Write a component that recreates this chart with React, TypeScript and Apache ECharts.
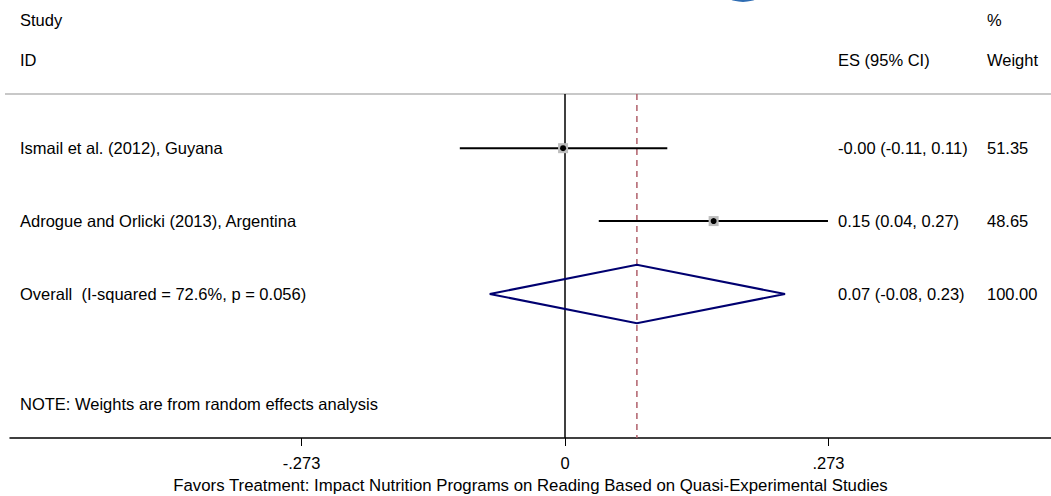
import React, { useEffect, useRef } from "react";
import * as echarts from "echarts";

const studies = ["Ismail et al. (2012), Guyana", "Adrogue and Orlicki (2013), Argentina"];
const esValues = [-0.002, 0.154];
const ciLow = [-0.109, 0.035];
const ciHigh = [0.106, 0.2725];
const esTexts = ["-0.00 (-0.11, 0.11)", "0.15 (0.04, 0.27)"];
const weightTexts = ["51.35", "48.65"];
const overallLabel = "Overall  (I-squared = 72.6%, p = 0.056)";
const overallES = 0.0745;
const overallLow = -0.078;
const overallHigh = 0.228;
const overallText = "0.07 (-0.08, 0.23)";
const overallWeight = "100.00";
const refLines = [0, overallES];
const tickValues = [-0.273, 0, 0.273];
const tickLabels = ["-.273", "0", ".273"];
const xTitle = "Favors Treatment: Impact Nutrition Programs on Reading Based on Quasi-Experimental Studies";
const noteText = "NOTE: Weights are from random effects analysis";

const FONT = "'Liberation Sans', Arial, Helvetica, sans-serif";
const FS = 16.5;
const Y_MIN = 0.257;
const Y_MAX = 4.975;

export default function App() {
  const ref = useRef<HTMLDivElement>(null);
  useEffect(() => {
    const chart = echarts.init(ref.current!, undefined, { renderer: "svg" });
    const textStyle = (text: string, x: number, y: number) => ({
      type: "text",
      x,
      y,
      style: { text, fill: "#000", font: `${FS}px ${FONT}`, textVerticalAlign: "middle" },
    });
    const rowData = studies.map((s, i) => [esValues[i], i + 1, ciLow[i], ciHigh[i], i]);
    chart.setOption({
      animation: false,
      grid: { left: 10, right: 0, top: 94, bottom: 58, outerBoundsMode: "none", containLabel: false },
      xAxis: {
        type: "value",
        min: -0.5751,
        max: 0.5036,
        splitLine: { show: false },
        axisLine: { show: true, onZero: false, lineStyle: { color: "#000", width: 1.5 } },
        axisTick: { show: true, customValues: tickValues, length: 8, lineStyle: { color: "#000", width: 1 } },
        axisLabel: {
          customValues: tickValues,
          formatter: (v: number) => tickLabels[tickValues.findIndex((t) => Math.abs(t - v) < 1e-6)] ?? "",
          color: "#000",
          fontFamily: FONT,
          fontSize: FS,
          margin: 16,
        },
        name: xTitle,
        nameLocation: "middle",
        nameGap: 39,
        nameTextStyle: { color: "#000", fontFamily: FONT, fontSize: 16.8 },
      },
      yAxis: {
        type: "value",
        inverse: true,
        min: Y_MIN,
        max: Y_MAX,
        show: false,
      },
      graphic: [
        { type: "line", shape: { x1: 5, y1: 94, x2: 1051, y2: 94 }, style: { stroke: "#c8c8c8", lineWidth: 2 } },
        { type: "circle", shape: { cx: 743, cy: -32, r: 34 }, style: { fill: "#2f6db3" } },
        textStyle("Study", 20, 20),
        textStyle("ID", 20, 60),
        textStyle("ES (95% CI)", 838, 60),
        textStyle("%", 987, 20),
        textStyle("Weight", 987, 60),
        textStyle(noteText, 20, 404),
      ],
      series: [
        {
          type: "custom",
          data: refLines.map((v, i) => [v, i]),
          silent: true,
          renderItem: (params: any, api: any) => {
            const v = api.value(0);
            const isZero = api.value(1) === 0;
            const a = api.coord([v, Y_MIN]);
            const b = api.coord([v, Y_MAX]);
            return {
              type: "line",
              shape: { x1: a[0], y1: a[1], x2: b[0], y2: b[1] },
              style: isZero
                ? { stroke: "#000", lineWidth: 1.5 }
                : { stroke: "#b0606b", lineWidth: 1.5, lineDash: [6, 5] },
            };
          },
        },
        {
          type: "custom",
          data: rowData,
          silent: true,
          renderItem: (params: any, api: any) => {
            const i = api.value(4);
            const c = api.coord([api.value(0), api.value(1)]);
            const l = api.coord([api.value(2), api.value(1)]);
            const h = api.coord([api.value(3), api.value(1)]);
            return {
              type: "group",
              children: [
                { type: "line", shape: { x1: l[0], y1: l[1], x2: h[0], y2: h[1] }, style: { stroke: "#000", lineWidth: 2 } },
                { type: "rect", shape: { x: c[0] - 5, y: c[1] - 5, width: 10, height: 10 }, style: { fill: "#bdbdbd" } },
                { type: "circle", shape: { cx: c[0], cy: c[1], r: 3 }, style: { fill: "#000" } },
                { type: "text", x: 20, y: c[1], style: { text: studies[i], fill: "#000", font: `${FS}px ${FONT}`, textVerticalAlign: "middle" } },
                { type: "text", x: 838, y: c[1], style: { text: esTexts[i], fill: "#000", font: `${FS}px ${FONT}`, textVerticalAlign: "middle" } },
                { type: "text", x: 987, y: c[1], style: { text: weightTexts[i], fill: "#000", font: `${FS}px ${FONT}`, textVerticalAlign: "middle" } },
              ],
            };
          },
        },
        {
          type: "custom",
          data: [[overallES, 3, overallLow, overallHigh]],
          silent: true,
          renderItem: (params: any, api: any) => {
            const c = api.coord([api.value(0), api.value(1)]);
            const top = api.coord([api.value(0), api.value(1) - 0.4]);
            const bot = api.coord([api.value(0), api.value(1) + 0.4]);
            const l = api.coord([api.value(2), api.value(1)]);
            const h = api.coord([api.value(3), api.value(1)]);
            return {
              type: "group",
              children: [
                {
                  type: "polygon",
                  shape: { points: [[l[0], l[1]], [top[0], top[1]], [h[0], h[1]], [bot[0], bot[1]]] },
                  style: { fill: "none", stroke: "#000070", lineWidth: 2 },
                },
                { type: "text", x: 20, y: c[1], style: { text: overallLabel, fill: "#000", font: `${FS}px ${FONT}`, textVerticalAlign: "middle" } },
                { type: "text", x: 838, y: c[1], style: { text: overallText, fill: "#000", font: `${FS}px ${FONT}`, textVerticalAlign: "middle" } },
                { type: "text", x: 987, y: c[1], style: { text: overallWeight, fill: "#000", font: `${FS}px ${FONT}`, textVerticalAlign: "middle" } },
              ],
            };
          },
        },
      ],
    });
    return () => chart.dispose();
  }, []);
  return <div ref={ref} style={{ width: 1051, height: 496, position: "absolute", left: 0, top: 0 }} />;
}
